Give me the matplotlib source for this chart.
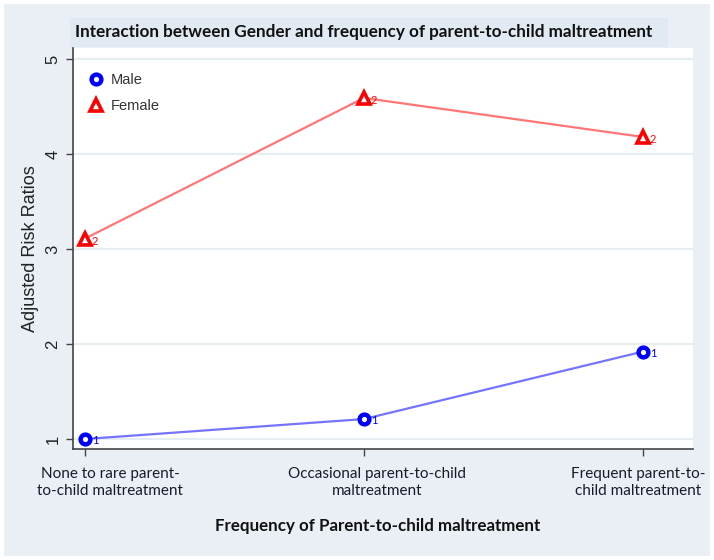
import matplotlib
matplotlib.use("Agg")
import matplotlib.pyplot as plt
from matplotlib.patches import Rectangle
import matplotlib.font_manager as fm

categories = ["None to rare parent-\nto-child maltreatment",
              "Occasional parent-to-child\nmaltreatment",
              "Frequent parent-to-\nchild maltreatment"]
male = [1.0, 1.21, 1.92]
female = [3.11, 4.59, 4.18]
male_lbl = "1"
female_lbl = "2"
yticks = [1, 2, 3, 4, 5]

names = {f.name for f in fm.fontManager.ttflist}
narrow = [n for n in ["Liberation Sans Narrow", "Lato", "DejaVu Sans"] if n in names]
arial = ["Liberation Sans", "DejaVu Sans"]

BG = "#e9eff4"
fig = plt.figure(figsize=(7.14, 5.6), dpi=100, facecolor=BG)
fig.patches.append(Rectangle((0, 0), 1, 1, transform=fig.transFigure,
                             fill=False, edgecolor="white", linewidth=6))
ax = fig.add_axes([73/714, 1-449/560, (693-73)/714, (449-48)/560])
ax.set_facecolor("white")

x = list(range(len(categories)))
ax.plot(x, male, color="#7474ff", lw=1.6, zorder=2)
ax.plot(x, female, color="#ff7676", lw=1.6, zorder=2)
ax.plot(x, male, ls="none", marker="o", ms=7, mfc="white", mec="#0000ff",
        mew=3.2, zorder=3, label="Male")
ax.plot(x, female, ls="none", marker="^", ms=8, mfc="white", mec="#ff0000",
        mew=2.6, zorder=3, label="Female")
for xi, m, f in zip(x, male, female):
    ax.annotate(male_lbl, (xi, m), xytext=(5, -1), textcoords="offset points",
                ha="left", va="center", fontsize=8, color="#0000ff", family=narrow)
    ax.annotate(female_lbl, (xi, f), xytext=(5, -2), textcoords="offset points",
                ha="left", va="center", fontsize=8, color="#ff0000", family=narrow)

ax.set_xlim(-0.043, 2.18)
ax.set_ylim(0.895, 5.116)
ax.set_yticks(yticks)
ax.set_yticklabels([str(v) for v in yticks], rotation=90, va="center",
                   fontsize=12, family=arial, color="#222222")
for v in yticks:
    ax.axhline(v, color="#e6eef4", lw=1.6, zorder=1)
ax.set_xticks(x)
ax.set_xticklabels([])
ax.tick_params(axis="both", length=5, width=1, color="#444444")
ax.tick_params(axis="y", pad=4)
for s in ["top", "right"]:
    ax.spines[s].set_visible(False)
for s in ["left", "bottom"]:
    ax.spines[s].set_color("#444444")
    ax.spines[s].set_linewidth(1.2)

# category labels
offsets = [25, 13, -5]
for xi, lab, off in zip(x, categories, offsets):
    ax.annotate(lab, (xi, 0), xycoords=("data", "axes fraction"),
                xytext=(off * 0.72, -13), textcoords="offset points",
                ha="center", va="top", fontsize=11, family=narrow,
                color="#1a1a2a", linespacing=1.25)

ax.set_ylabel("Adjusted Risk Ratios", fontsize=13, family=arial,
              color="#222222", labelpad=5)

leg = ax.legend(loc="upper left", frameon=False,
                prop={"family": arial, "size": 10.5}, handletextpad=0.4,
                bbox_to_anchor=(0.0, 0.975), borderaxespad=0.6,
                labelspacing=0.85, handlelength=1.2)
for t in leg.get_texts():
    t.set_color("#333333")

# title box
fig.patches.append(Rectangle((70/714, 1-47/560), (668-70)/714, 29/560,
                             transform=fig.transFigure, facecolor="#e1e9f3",
                             edgecolor="none", zorder=0))
fig.text(364/714, 1-32/560, "Interaction between Gender and frequency of parent-to-child maltreatment",
         ha="center", va="center", fontsize=12.3, fontweight="bold",
         family=narrow, color="#111111")
fig.text(378/714, 1-526/560, "Frequency of Parent-to-child maltreatment",
         ha="center", va="center", fontsize=12.2, fontweight="bold",
         family=narrow, color="#111111")

fig.savefig("out.png", dpi=100, facecolor=BG)
